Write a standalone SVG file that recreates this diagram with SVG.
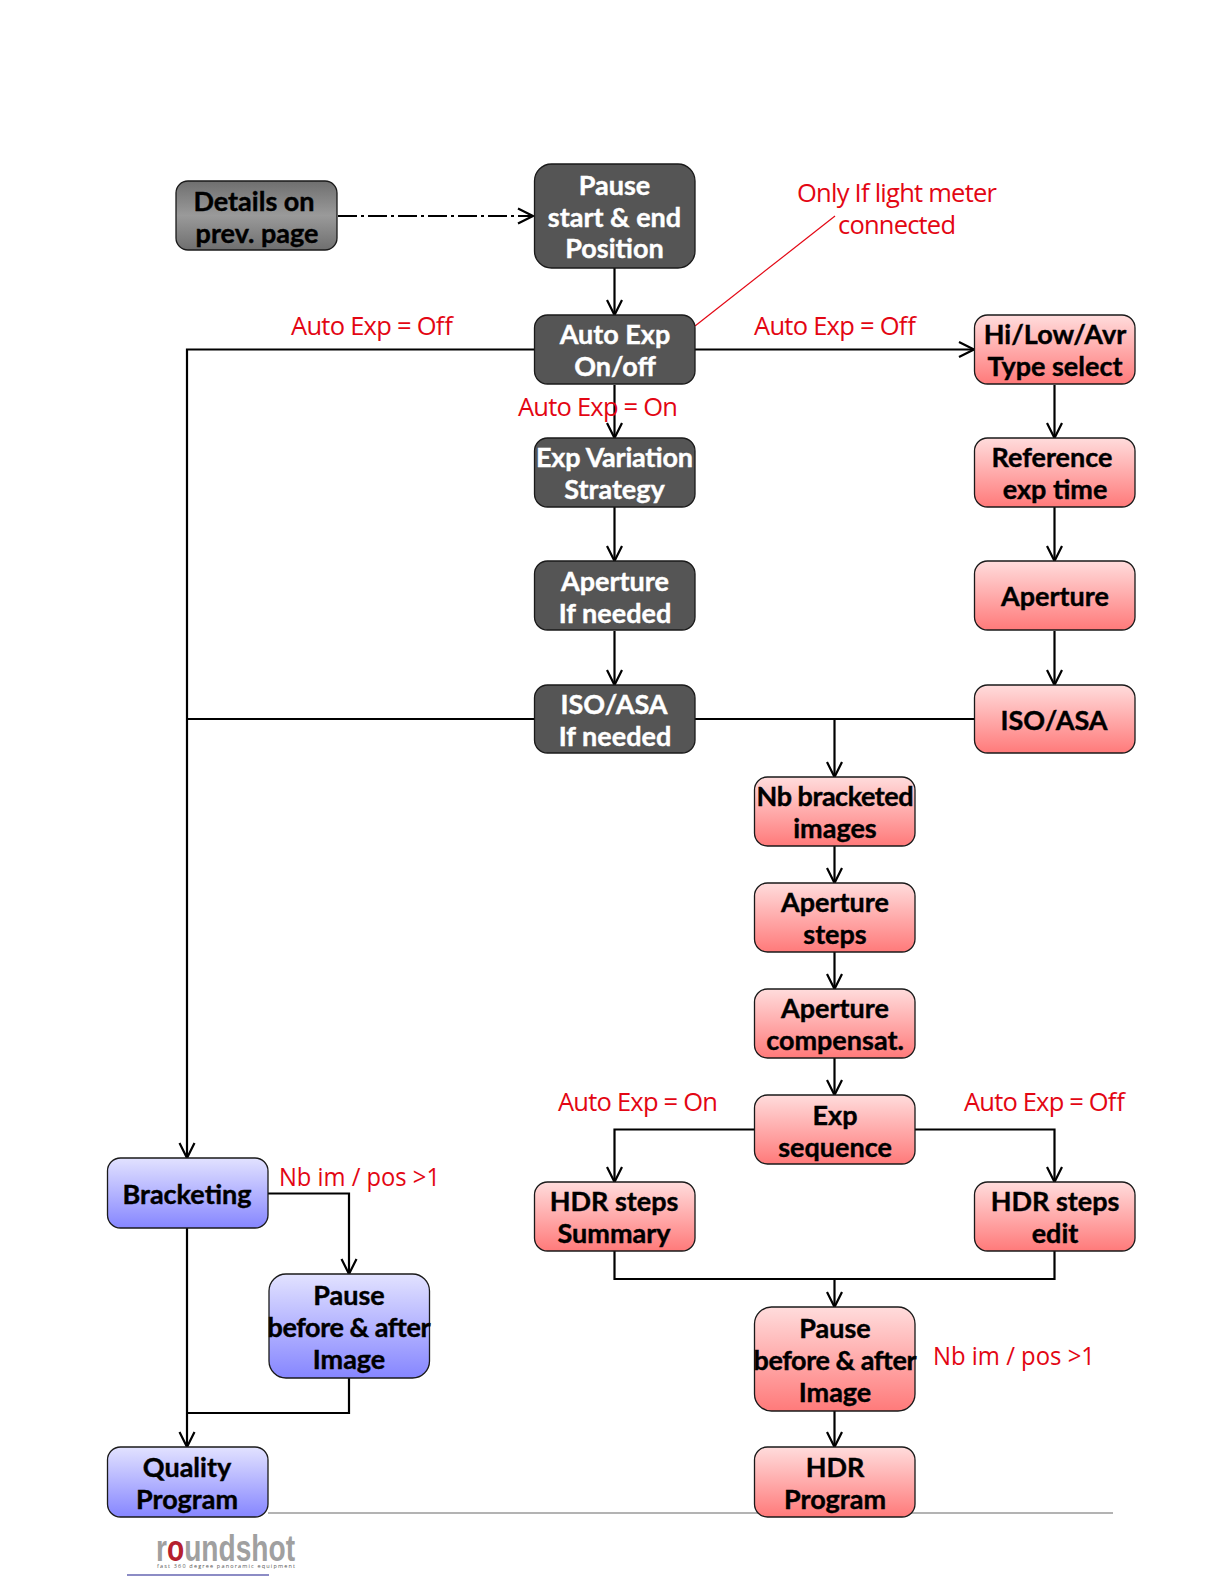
<svg xmlns="http://www.w3.org/2000/svg" width="1224" height="1584" viewBox="0 0 1224 1584">
<style>
.n{stroke:#1a1a1a;stroke-width:1.3}
.d{fill:#555555}
.r{fill:url(#gr)}
.b{fill:url(#gb)}
.g{fill:url(#gg)}
text{font-family:"Open Sans","Noto Sans",sans-serif}
.t{font-family:Lato,"Open Sans",sans-serif;font-size:27px;font-weight:700;text-anchor:middle;fill:#000;stroke:#000;stroke-width:.4}
.w{fill:#fff;stroke:#fff}
.l{font-size:25.5px;fill:#e30613;font-weight:400}
.c{fill:none;stroke:#000;stroke-width:2.2;marker-end:url(#a)}
.p{fill:none;stroke:#000;stroke-width:2.2}
</style>
<defs>
<linearGradient id="gr" x1="0" y1="0" x2="0" y2="1"><stop offset="0" stop-color="#ffdcdc"/><stop offset="1" stop-color="#ff7a7a"/></linearGradient>
<linearGradient id="gb" x1="0" y1="0" x2="0" y2="1"><stop offset="0" stop-color="#e2e2ff"/><stop offset="1" stop-color="#8686ff"/></linearGradient>
<linearGradient id="gg" x1="0" y1="0" x2="0" y2="1"><stop offset="0" stop-color="#6f6f6f"/><stop offset="0.5" stop-color="#9a9a9a"/><stop offset="1" stop-color="#6f6f6f"/></linearGradient>
<marker id="a" markerUnits="userSpaceOnUse" markerWidth="20" markerHeight="20" refX="16" refY="9" orient="auto"><path d="M1 1.500L16 9L1 16.500" fill="none" stroke="#000" stroke-width="2.2"/></marker>
</defs>
<g id="footer">
<path d="M268 1513H1113" stroke="#b3b3b3" stroke-width="2" fill="none"/>
<path d="M127 1575H269" stroke="#1a1a8c" stroke-width="1.2" fill="none"/>
<text x="156" y="1561" font-size="37" fill="#a0a0a0" font-weight="700" style="font-family:'Liberation Sans',sans-serif" textLength="139" lengthAdjust="spacingAndGlyphs">r<tspan fill="#b5202e">o</tspan>undshot</text>
<text x="157" y="1568" font-size="5.5" fill="#555" textLength="138">fast 360 degree panoramic equipment</text>
</g>
<g id="connectors">
<path class="c" d="M338 216H533" stroke-dasharray="19 4 3 4"/>
<path class="c" d="M614.500 268V315"/>
<path class="c" d="M614.500 385V438"/>
<path class="c" d="M614.500 507V561"/>
<path class="c" d="M614.500 631V685"/>
<path class="c" d="M695 349.500H974"/>
<path class="c" d="M1054.500 385V438"/>
<path class="c" d="M1054.500 507V561"/>
<path class="c" d="M1054.500 631V685"/>
<path class="c" d="M534 349.500H187V1158"/>
<path class="p" d="M534 719H187"/>
<path class="p" d="M695 719H974"/>
<path class="c" d="M834.500 719V777"/>
<path class="c" d="M834.500 846V883"/>
<path class="c" d="M834.500 952V989"/>
<path class="c" d="M834.500 1058V1095"/>
<path class="c" d="M754 1129.500H614.500V1182"/>
<path class="c" d="M915 1129.500H1054.500V1182"/>
<path class="p" d="M614.500 1251V1279H1054.500V1251"/>
<path class="c" d="M834.500 1279V1307"/>
<path class="c" d="M834.500 1411V1447"/>
<path class="c" d="M187 1228V1447"/>
<path class="c" d="M268 1193.500H349V1274"/>
<path class="p" d="M349 1378V1413H187"/>
<path d="M695 326L835 216" stroke="#e30613" stroke-width="1.2" fill="none"/>
</g>
<g id="details"><rect class="n g" x="176" y="181" width="161" height="69" rx="12"/><text class="t" x="254" y="211">Details on</text><text class="t" x="257" y="243">prev. page</text></g>
<g id="pause-start"><rect class="n d" x="534.500" y="164" width="160.500" height="104" rx="17"/><text class="t w" x="614.500" y="195">Pause</text><text class="t w" x="614.500" y="227">start &amp; end</text><text class="t w" x="614.500" y="258">Position</text></g>
<g id="auto-exp"><rect class="n d" x="534.500" y="315" width="160.500" height="69" rx="13"/><text class="t w" x="615" y="344">Auto Exp</text><text class="t w" x="615" y="376">On/off</text></g>
<g id="exp-var"><rect class="n d" x="534.500" y="438" width="160.500" height="69" rx="13"/><text class="t w" x="614.500" y="467" textLength="157">Exp Variation</text><text class="t w" x="614.500" y="499">Strategy</text></g>
<g id="aperture-if"><rect class="n d" x="534.500" y="561" width="160.500" height="69" rx="13"/><text class="t w" x="615" y="591">Aperture</text><text class="t w" x="615" y="623">If needed</text></g>
<g id="iso-if"><rect class="n d" x="534.500" y="685" width="160.500" height="68" rx="13"/><text class="t w" x="614" y="714">ISO/ASA</text><text class="t w" x="615" y="746">If needed</text></g>
<g id="hilow"><rect class="n r" x="974.500" y="315" width="160.500" height="69" rx="13"/><text class="t" x="1055" y="344">Hi/Low/Avr</text><text class="t" x="1055" y="376">Type select</text></g>
<g id="reference"><rect class="n r" x="974.500" y="438" width="160.500" height="69" rx="13"/><text class="t" x="1052" y="467">Reference</text><text class="t" x="1055" y="499">exp time</text></g>
<g id="aperture"><rect class="n r" x="974.500" y="561" width="160.500" height="69" rx="13"/><text class="t" x="1055" y="606">Aperture</text></g>
<g id="iso"><rect class="n r" x="974.500" y="685" width="160.500" height="68" rx="13"/><text class="t" x="1054" y="730">ISO/ASA</text></g>
<g id="nb-bracketed"><rect class="n r" x="754.500" y="777" width="160.500" height="69" rx="13"/><text class="t" x="835" y="806" textLength="157">Nb bracketed</text><text class="t" x="835" y="838">images</text></g>
<g id="aperture-steps"><rect class="n r" x="754.500" y="883" width="160.500" height="69" rx="13"/><text class="t" x="835" y="912">Aperture</text><text class="t" x="835" y="944">steps</text></g>
<g id="aperture-comp"><rect class="n r" x="754.500" y="989" width="160.500" height="69" rx="13"/><text class="t" x="835" y="1018">Aperture</text><text class="t" x="835" y="1050">compensat.</text></g>
<g id="exp-seq"><rect class="n r" x="754.500" y="1095" width="160.500" height="69" rx="13"/><text class="t" x="835" y="1125">Exp</text><text class="t" x="835" y="1157">sequence</text></g>
<g id="hdr-summary"><rect class="n r" x="534.500" y="1182" width="160.500" height="69" rx="13"/><text class="t" x="614" y="1211">HDR steps</text><text class="t" x="614" y="1243">Summary</text></g>
<g id="hdr-edit"><rect class="n r" x="974.500" y="1182" width="160.500" height="69" rx="13"/><text class="t" x="1055" y="1211">HDR steps</text><text class="t" x="1055" y="1243">edit</text></g>
<g id="pause-right"><rect class="n r" x="754.500" y="1307" width="160.500" height="104" rx="17"/><text class="t" x="835" y="1338">Pause</text><text class="t" x="835" y="1370" textLength="163">before &amp; after</text><text class="t" x="835" y="1402">Image</text></g>
<g id="hdr-program"><rect class="n r" x="754.500" y="1447" width="160.500" height="70" rx="13"/><text class="t" x="835" y="1477">HDR</text><text class="t" x="835" y="1509">Program</text></g>
<g id="bracketing"><rect class="n b" x="107.500" y="1158" width="160.500" height="70" rx="13"/><text class="t" x="187" y="1204">Bracketing</text></g>
<g id="pause-left"><rect class="n b" x="269" y="1274" width="160.500" height="104" rx="17"/><text class="t" x="349" y="1305">Pause</text><text class="t" x="349" y="1337" textLength="163">before &amp; after</text><text class="t" x="349" y="1369">Image</text></g>
<g id="quality"><rect class="n b" x="107.500" y="1447" width="160.500" height="70" rx="13"/><text class="t" x="187" y="1477">Quality</text><text class="t" x="187" y="1509">Program</text></g>
<g id="labels">
<text class="l" x="797" y="202" textLength="200">Only If light meter</text>
<text class="l" x="838" y="234" textLength="118">connected</text>
<text class="l" x="291" y="335" textLength="162">Auto Exp = Off</text>
<text class="l" x="754" y="335" textLength="162">Auto Exp = Off</text>
<text class="l" x="518" y="416" textLength="160">Auto Exp = On</text>
<text class="l" x="558" y="1111" textLength="160">Auto Exp = On</text>
<text class="l" x="964" y="1111" textLength="161">Auto Exp = Off</text>
<text class="l" x="279" y="1186" textLength="161" lengthAdjust="spacingAndGlyphs">Nb im / pos &gt;1</text>
<text class="l" x="933" y="1365" textLength="162" lengthAdjust="spacingAndGlyphs">Nb im / pos &gt;1</text>
</g>
</svg>
